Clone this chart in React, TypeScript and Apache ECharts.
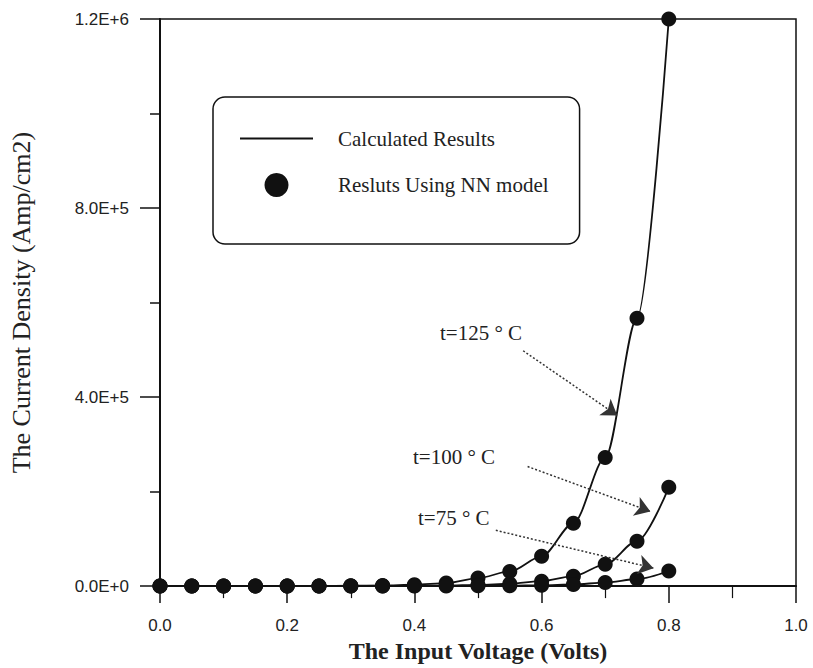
import React, { useEffect, useRef } from "react";
import * as echarts from "echarts";

// Input voltage (Volts)
const VOLTAGE = [0, 0.05, 0.1, 0.15, 0.2, 0.25, 0.3, 0.35, 0.4, 0.45, 0.5, 0.55, 0.6, 0.65, 0.7, 0.75, 0.8];
// Current density (Amp/cm2)
const T125 = [0, 20, 40, 80, 170, 350, 700, 1500, 3000, 6500, 17000, 31000, 63000, 133000, 272000, 567000, 1200000];
const T100 = [0, 5, 10, 20, 40, 80, 150, 300, 600, 1200, 2500, 5000, 10500, 21000, 46000, 95000, 209000];
const T75 = [0, 1, 2, 4, 8, 15, 30, 60, 120, 250, 500, 900, 1700, 3500, 7500, 15000, 32000];

const Y_TICK_LABELS = ["0.0E+0", "4.0E+5", "8.0E+5", "1.2E+6"];
const X_TICK_LABELS = ["0.0", "0.2", "0.4", "0.6", "0.8", "1.0"];

// annotation arrows (data coordinates): [start, end]
const ARROWS = [
  [[0.571, 498000], [0.719, 361000]],
  [[0.578, 253000], [0.771, 158000]],
  [[0.528, 118000], [0.776, 38000]],
];
const ANNOTATIONS = ["t=125 ° C", "t=100 ° C", "t=75 ° C"];

const SERIES_SETS = [T125, T100, T75];

export default function App() {
  const ref = useRef<HTMLDivElement>(null);
  useEffect(() => {
    if (!ref.current) return;
    const chart = echarts.init(ref.current, null, { renderer: "svg" });
    const black = "#111";
    const series: any[] = [];
    SERIES_SETS.forEach((vals, k) => {
      const data = VOLTAGE.map((x, i) => [x, vals[i]]);
      const line: any = {
        type: "line",
        name: "Calculated Results",
        data,
        symbol: "none",
        showSymbol: false,
        smooth: 0.3,
        smoothMonotone: "x",
        color: black,
        lineStyle: { color: black, width: 1.8 },
        z: 2,
      };
      if (k === 0) {
        line.markLine = {
          silent: true,
          symbol: ["none", "arrow"],
          symbolSize: 15,
          label: { show: false },
          lineStyle: { type: [2, 2], color: "#333", width: 1.5 },
          data: ARROWS.map((a) => [{ coord: a[0] }, { coord: a[1] }]),
        };
      }
      series.push(line);
      series.push({
        type: "scatter",
        name: "Resluts Using NN model",
        data,
        symbol: "circle",
        symbolSize: 15,
        itemStyle: { color: black, opacity: 1 },
        z: 3,
      });
    });

    chart.setOption({
      animation: false,
      backgroundColor: "#fff",
      grid: {
        left: 158,
        right: 17,
        top: 19,
        bottom: 80,
        show: true,
        borderColor: black,
        borderWidth: 1.5,
        backgroundColor: "transparent",
      },
      legend: {
        left: 213,
        top: 97,
        orient: "vertical",
        data: [
          { name: "Calculated Results", icon: "path://M0,0 L73,0 L73,2 L0,2 Z" },
          { name: "Resluts Using NN model", icon: "circle" },
        ],
        itemWidth: 73,
        itemHeight: 24,
        itemGap: 24,
        padding: [31, 31, 47, 27],
        backgroundColor: "#fff",
        borderColor: black,
        borderWidth: 1.5,
        borderRadius: 12,
        selectedMode: false,
        itemStyle: { color: black, opacity: 1 },
        textStyle: {
          fontFamily: "Liberation Serif, Times New Roman, serif",
          fontSize: 21,
          color: "#222",
          padding: [0, 0, 0, 20],
        },
      },
      xAxis: {
        type: "value",
        min: 0,
        max: 1,
        interval: 0.2,
        name: "The Input Voltage (Volts)",
        nameLocation: "middle",
        nameGap: 48,
        nameTextStyle: {
          fontFamily: "Liberation Serif, Times New Roman, serif",
          fontWeight: "bold",
          fontSize: 24,
          color: "#222",
        },
        axisLine: { lineStyle: { color: black, width: 2 } },
        axisTick: { inside: false, length: 17, lineStyle: { color: black, width: 1.5 } },
        minorTick: { show: true, splitNumber: 2, length: 12, lineStyle: { color: black, width: 1.2 } },
        splitLine: { show: false },
        axisLabel: {
          margin: 31,
          fontFamily: "Liberation Sans, Arial, sans-serif",
          fontSize: 17,
          color: "#222",
          formatter: (v: number) => X_TICK_LABELS[Math.round(v / 0.2)] ?? "",
        },
      },
      yAxis: {
        type: "value",
        min: 0,
        max: 1200000,
        interval: 400000,
        name: "The Current Density (Amp/cm2)",
        nameLocation: "middle",
        nameGap: 126,
        nameTextStyle: {
          fontFamily: "Liberation Serif, Times New Roman, serif",
          fontSize: 26,
          color: "#222",
        },
        axisLine: { lineStyle: { color: black, width: 2 } },
        axisTick: { inside: false, length: 20, lineStyle: { color: black, width: 1.5 } },
        minorTick: { show: true, splitNumber: 2, length: 10, lineStyle: { color: black, width: 1.5 } },
        splitLine: { show: false },
        axisLabel: {
          margin: 31,
          fontFamily: "Liberation Sans, Arial, sans-serif",
          fontSize: 17,
          color: "#222",
          formatter: (v: number) => Y_TICK_LABELS[Math.round(v / 400000)] ?? "",
        },
      },
      graphic: [
        { type: "text", x: 440, y: 333, style: { text: ANNOTATIONS[0], font: "21px 'Liberation Serif', serif", fill: "#222", verticalAlign: "middle" } },
        { type: "text", x: 413, y: 457, style: { text: ANNOTATIONS[1], font: "21px 'Liberation Serif', serif", fill: "#222", verticalAlign: "middle" } },
        { type: "text", x: 418, y: 518, style: { text: ANNOTATIONS[2], font: "21px 'Liberation Serif', serif", fill: "#222", verticalAlign: "middle" } },
      ],
      series,
    });
    return () => chart.dispose();
  }, []);
  return (
    <div
      ref={ref}
      style={{ position: "fixed", left: 0, top: 0, width: 813, height: 668, background: "#fff" }}
    />
  );
}
